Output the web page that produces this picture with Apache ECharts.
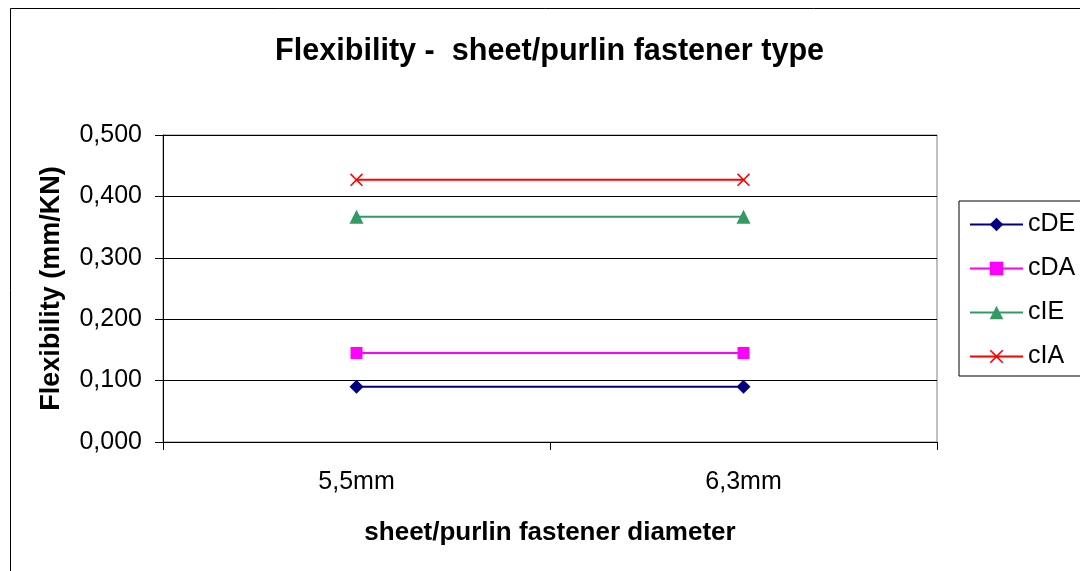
<!DOCTYPE html>
<html>
<head>
<meta charset="utf-8">
<title>Flexibility - sheet/purlin fastener type</title>
<script src="https://cdn.jsdelivr.net/npm/echarts@6/dist/echarts.min.js"></script>
<style>
  html, body { margin: 0; padding: 0; background: #fff; }
  #chart { width: 1080px; height: 571px; }
</style>
</head>
<body>
<div id="chart"></div>
<script>
// Fastener diameters on the category axis
const categories = ['5,5mm', '6,3mm'];

// Flexibility values (mm/KN) per connection type
const cDE = [0.090, 0.090];
const cDA = [0.145, 0.145];
const cIE = [0.367, 0.367];
const cIA = [0.427, 0.427];

// Y axis ticks
const yMin = 0;
const yMax = 0.5;
const yStep = 0.1;

const FONT = "'Liberation Sans', Arial, sans-serif";

// Cross marker drawn as a filled outline so it renders like a stroked "x"
const crossPath = 'path://M0,1L1,0L6,5L11,0L12,1L7,6L12,11L11,12L6,7L1,12L0,11L5,6Z';

function makeSeries(name, data, color, symbol, size) {
  return {
    name: name,
    type: 'line',
    data: data,
    symbol: symbol,
    symbolSize: size,
    showAllSymbol: true,
    lineStyle: { color: color, width: 2 },
    itemStyle: { color: color },
    emphasis: { disabled: true },
    z: 3
  };
}

const chart = echarts.init(document.getElementById('chart'), null, { renderer: 'canvas' });

chart.setOption({
  animation: false,
  backgroundColor: '#ffffff',
  textStyle: { fontFamily: FONT },
  title: {
    text: 'Flexibility -  sheet/purlin fastener type',
    left: 275,
    top: 36,
    padding: 0,
    textStyle: { fontFamily: FONT, fontSize: 30.6, fontWeight: 'bold', color: '#000' }
  },
  graphic: [
    {
      type: 'rect',
      silent: true,
      shape: { x: 10.5, y: 8.5, width: 1200, height: 700 },
      style: { fill: 'none', stroke: '#000', lineWidth: 1 },
      z: 0
    }
  ],
  legend: {
    orient: 'vertical',
    left: 959,
    top: 201,
    padding: [11, 30, 7, 10],
    itemGap: 19,
    itemWidth: 53,
    itemHeight: 17,
    borderColor: '#000',
    borderWidth: 1,
    textStyle: { fontFamily: FONT, fontSize: 25, color: '#000' },
    data: ['cDE', 'cDA', 'cIE', 'cIA']
  },
  grid: {
    left: 163,
    right: 143,
    top: 135,
    bottom: 129,
    show: true,
    borderColor: '#808080',
    borderWidth: 1,
    backgroundColor: 'transparent',
    containLabel: false
  },
  xAxis: {
    type: 'category',
    data: categories,
    boundaryGap: true,
    name: 'sheet/purlin fastener diameter',
    nameLocation: 'middle',
    nameGap: 78,
    nameTextStyle: { fontFamily: FONT, fontSize: 26, fontWeight: 'bold', color: '#000' },
    axisLine: { show: true, lineStyle: { color: '#000', width: 1 } },
    axisTick: { show: true, alignWithLabel: false, length: 8, inside: false, lineStyle: { color: '#000' } },
    axisLabel: { margin: 28, fontFamily: FONT, fontSize: 25, color: '#000' },
    splitLine: { show: false }
  },
  yAxis: {
    type: 'value',
    min: yMin,
    max: yMax,
    interval: yStep,
    name: 'Flexibility (mm/KN)',
    nameLocation: 'middle',
    nameGap: 98,
    nameRotate: 90,
    nameTextStyle: { fontFamily: FONT, fontSize: 27, fontWeight: 'bold', color: '#000' },
    axisLine: { show: true, lineStyle: { color: '#000', width: 1 } },
    axisTick: { show: true, length: 8, inside: false, lineStyle: { color: '#000' } },
    axisLabel: {
      margin: 21,
      fontFamily: FONT,
      fontSize: 25,
      color: '#000',
      formatter: function (v) { return v.toFixed(3).replace('.', ','); }
    },
    splitLine: { show: true, lineStyle: { color: '#000', width: 1 } }
  },
  series: [
    makeSeries('cDE', cDE, '#000080', 'diamond', 14),
    makeSeries('cDA', cDA, '#ff00ff', 'rect', 12),
    makeSeries('cIE', cIE, '#339966', 'triangle', 14),
    makeSeries('cIA', cIA, '#ff0000', crossPath, 13)
  ]
});
</script>
</body>
</html>
